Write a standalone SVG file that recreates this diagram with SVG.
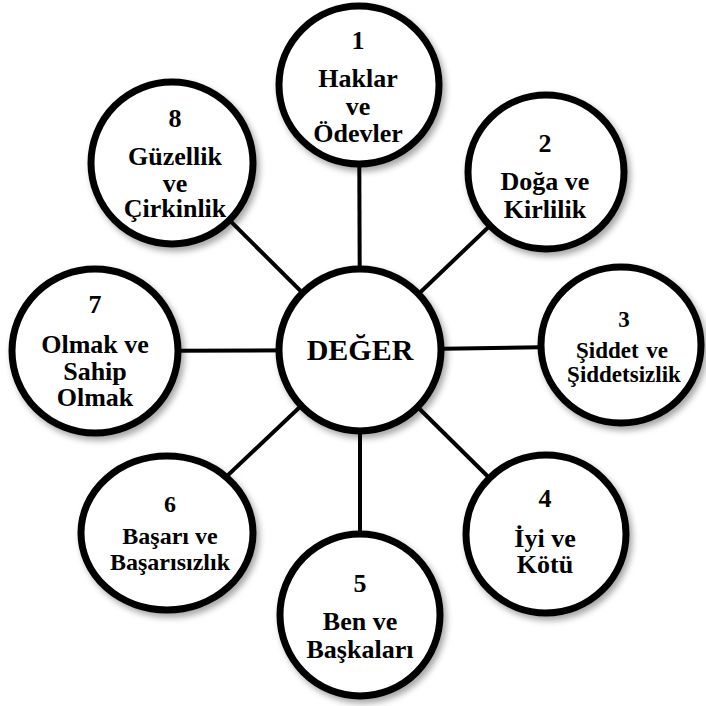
<svg xmlns="http://www.w3.org/2000/svg" width="706" height="706" viewBox="0 0 706 706" font-family="'Liberation Serif', 'Times New Roman', serif">
<defs>
<filter id="sh" x="-20%" y="-20%" width="150%" height="150%">
<feDropShadow dx="3" dy="4" stdDeviation="3" flood-color="#000" flood-opacity="0.35"/>
</filter>
<style>
.c{fill:#fff;stroke:#000;stroke-width:7;filter:url(#sh)}
.l{stroke:#000;stroke-width:4;fill:none}
text{font-weight:bold;text-anchor:middle;fill:#000;font-size:26px}
.s{font-size:23px;word-spacing:2px}
.t{font-size:24px}
.m{font-size:30px}
</style>
</defs>
<rect width="706" height="706" fill="#fff"/>
<g id="connectors">
<line class="l" x1="360" y1="350" x2="359" y2="85"/>
<line class="l" x1="360" y1="350" x2="546" y2="172"/>
<line class="l" x1="360" y1="350" x2="621" y2="346"/>
<line class="l" x1="360" y1="350" x2="546" y2="534"/>
<line class="l" x1="360" y1="350" x2="360" y2="615"/>
<line class="l" x1="360" y1="350" x2="167" y2="533"/>
<line class="l" x1="360" y1="350" x2="95" y2="351"/>
<line class="l" x1="360" y1="350" x2="172" y2="163"/>
</g>
<g id="center">
<ellipse class="c" cx="360" cy="350" rx="81" ry="81"/>
<text class="m" x="360" y="360">DEĞER</text>
</g>
<g id="n1">
<ellipse class="c" cx="359" cy="85" rx="80" ry="79"/>
<text x="358" y="49">1</text>
<text x="358" y="87">Haklar</text>
<text x="358" y="115">ve</text>
<text x="358" y="142">Ödevler</text>
</g>
<g id="n2">
<ellipse class="c" cx="546" cy="172" rx="78" ry="77"/>
<text x="545" y="152">2</text>
<text x="545" y="190">Doğa ve</text>
<text x="545" y="218">Kirlilik</text>
</g>
<g id="n3">
<ellipse class="c" cx="621" cy="345" rx="80" ry="78"/>
<text class="s" x="624" y="327">3</text>
<text class="s" x="622" y="358">Şiddet ve</text>
<text class="s" x="624" y="382">Şiddetsizlik</text>
</g>
<g id="n4">
<ellipse class="c" cx="546" cy="534" rx="80" ry="79"/>
<text x="545" y="507">4</text>
<text x="545" y="547">İyi ve</text>
<text x="545" y="573">Kötü</text>
</g>
<g id="n5">
<ellipse class="c" cx="360" cy="615" rx="80" ry="81"/>
<text x="360" y="592">5</text>
<text x="360" y="630">Ben ve</text>
<text x="360" y="658">Başkaları</text>
</g>
<g id="n6">
<ellipse class="c" cx="167" cy="533" rx="86" ry="77"/>
<text class="t" x="170" y="512">6</text>
<text class="t" x="170" y="544">Başarı ve</text>
<text class="t" x="170" y="570">Başarısızlık</text>
</g>
<g id="n7">
<ellipse class="c" cx="95" cy="351" rx="83" ry="82"/>
<text x="95" y="313">7</text>
<text x="95" y="353">Olmak ve</text>
<text x="95" y="380">Sahip</text>
<text x="95" y="406">Olmak</text>
</g>
<g id="n8">
<ellipse class="c" cx="172" cy="163" rx="81" ry="81"/>
<text x="175" y="127">8</text>
<text x="175" y="165">Güzellik</text>
<text x="175" y="192">ve</text>
<text x="175" y="217">Çirkinlik</text>
</g>
</svg>
